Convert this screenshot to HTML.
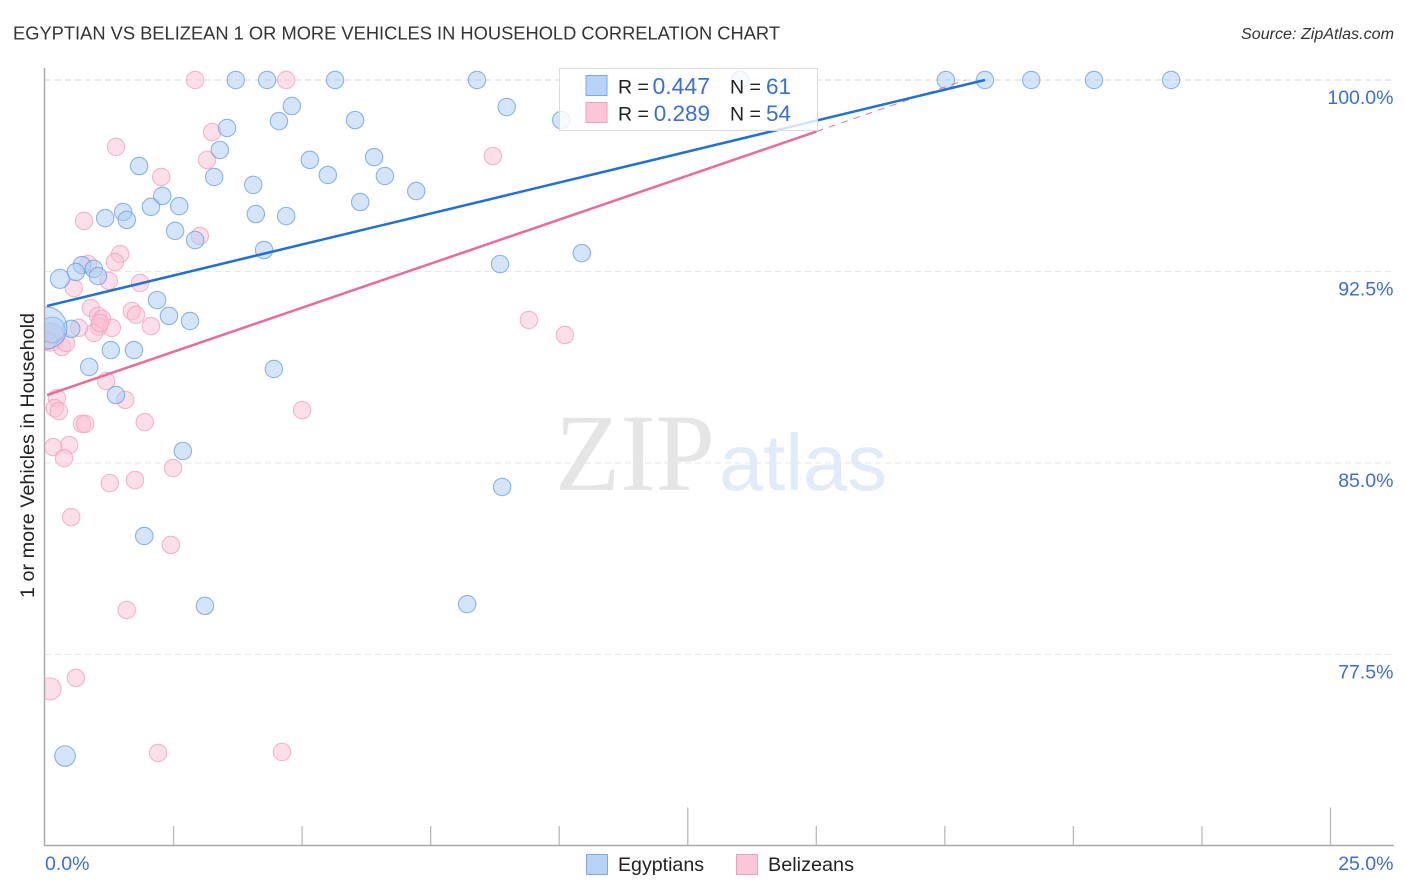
<!DOCTYPE html>
<html lang="en">
<head>
<meta charset="utf-8">
<title>Egyptian vs Belizean 1 or more Vehicles in Household Correlation Chart</title>
<style>
html,body{margin:0;padding:0;background:#fff;}
svg{display:block;font-family:"Liberation Sans",sans-serif;}
</style>
</head>
<body>
<svg id="chart" xmlns="http://www.w3.org/2000/svg" width="1406" height="892" viewBox="0 0 1406 892">
  <g>
    <text x="555" y="490" font-family="'Liberation Serif',serif" font-size="110" fill="#e5e5e5" textLength="160" lengthAdjust="spacingAndGlyphs">ZIP</text>
    <text x="719" y="490" font-size="80" fill="#e2ebf9" textLength="168" lengthAdjust="spacingAndGlyphs">atlas</text>
  </g>
  <g id="grid"></g>
  <g id="points"></g>
  <rect x="0" y="60" width="45" height="790" fill="#fff"/>
  <g id="trends"></g>
  <g id="axes"></g>
  <text x="13" y="39.5" font-size="18.5" fill="#333" textLength="767" lengthAdjust="spacingAndGlyphs">EGYPTIAN VS BELIZEAN 1 OR MORE VEHICLES IN HOUSEHOLD CORRELATION CHART</text>
  <text x="1241" y="39" font-size="15.5" font-style="italic" fill="#333" textLength="153" lengthAdjust="spacingAndGlyphs">Source: ZipAtlas.com</text>
  <text transform="translate(34,598) rotate(-90)" font-size="19" fill="#222" textLength="285" lengthAdjust="spacingAndGlyphs">1 or more Vehicles in Household</text>

  <g>
    <rect x="559.5" y="68.5" width="258" height="62" fill="#fff" fill-opacity="0.8" stroke="#dcdcdc" stroke-width="1"/>
    <rect x="586" y="75.5" width="21" height="20" fill="#b7d3f8" stroke="#7ea9e2" stroke-width="1"/>
    <rect x="586" y="102.5" width="21" height="20" fill="#fcc6d8" stroke="#f0a0bb" stroke-width="1"/>
    <text x="618" y="93.5" font-size="19.5" fill="#222">R =</text>
    <text x="710" y="94" font-size="23" fill="#3b6fd4" text-anchor="end">0.447</text>
    <text x="730" y="93.5" font-size="19.5" fill="#222">N =</text>
    <text x="791" y="94" font-size="22.5" fill="#3b6fd4" text-anchor="end">61</text>
    <text x="618" y="120.5" font-size="19.5" fill="#222">R =</text>
    <text x="710" y="121" font-size="22.5" fill="#3b6fd4" text-anchor="end">0.289</text>
    <text x="730" y="120.5" font-size="19.5" fill="#222">N =</text>
    <text x="791" y="121" font-size="22.5" fill="#3b6fd4" text-anchor="end">54</text>
  </g>

  <g>
    <rect x="586.5" y="854.5" width="21" height="20" fill="#b7d3f8" stroke="#7ea9e2" stroke-width="1"/>
    <text x="618" y="871" font-size="19.5" fill="#222" textLength="86" lengthAdjust="spacingAndGlyphs">Egyptians</text>
    <rect x="736.5" y="854.5" width="21" height="20" fill="#fcc6d8" stroke="#f0a0bb" stroke-width="1"/>
    <text x="768" y="871" font-size="19.5" fill="#222" textLength="86" lengthAdjust="spacingAndGlyphs">Belizeans</text>
  </g>
</svg>
<script>
const xTicks = [0, 2.5, 5, 7.5, 10, 12.5, 15, 17.5, 20, 22.5, 25];
const xTickMajor = [12.5, 25];
const xLabelValues = [0, 25];
const xLabels = ['0.0%', '25.0%'];
const yTicks = [100, 92.5, 85, 77.5];
const yLabels = ['100.0%', '92.5%', '85.0%', '77.5%'];

const egyptiansX = [3.71,4.32,5.64,8.40,13.52,17.52,18.28,19.18,20.40,21.90,4.80,4.55,6.03,3.54,8.98,10.04,3.40,1.83,5.15,6.40,3.29,5.50,6.61,4.05,7.22,2.28,2.06,2.61,6.13,1.52,1.17,1.59,4.10,4.69,2.53,2.92,4.26,10.44,8.85,0.72,0.60,0.95,1.03,0.29,2.18,2.41,2.82,0.51,0.14,0.02,1.28,1.73,0.86,4.45,1.38,2.68,8.89,1.93,3.11,8.21,0.39];
const egyptiansY = [100,100,100,100,100,100,100,100,100,100,98.98,98.39,98.43,98.12,98.94,98.43,97.26,96.63,96.87,96.98,96.20,96.28,96.24,95.89,95.65,95.46,95.03,95.06,95.22,94.83,94.59,94.52,94.75,94.67,94.09,93.73,93.34,93.22,92.79,92.75,92.48,92.60,92.32,92.21,91.38,90.76,90.56,90.25,90.21,90.29,89.42,89.42,88.76,88.68,87.66,85.47,84.06,82.14,79.40,79.47,73.52];
const egyptiansPop = [1,1,1,1,1,1,1,1,1,1,1,1,1,1,1,1,1,1,1,1,1,1,1,1,1,1,1,1,1,1,1,1,1,1,1,1,1,1,1,1,1,1,1,1.2,1,1,1,1,2.2,5.8,1,1,1,1,1,1,1,1,1,1,1.4];

const belizeansX = [2.92,4.69,3.25,1.38,3.15,8.71,2.26,0.76,3.01,1.46,1.36,0.84,1.24,1.85,0.56,0.89,1.69,1.77,1.03,1.11,9.41,1.05,1.30,0.95,2.06,0.66,10.11,0.10,0.33,0.41,1.19,1.56,0.23,0.19,0.27,5.00,1.94,0.72,0.78,0.47,0.16,0.37,2.49,1.75,1.26,0.51,2.45,1.59,0.60,0.10,2.20,4.61,1.07,0.06];
const belizeansY = [100,100,97.96,97.38,96.87,97.02,96.20,94.48,93.89,93.18,92.87,92.79,92.13,92.05,91.85,91.07,90.95,90.80,90.76,90.64,90.60,90.33,90.29,90.09,90.36,90.29,90.01,89.93,89.54,89.70,88.21,87.47,87.54,87.15,87.03,87.07,86.60,86.53,86.53,85.70,85.62,85.19,84.80,84.33,84.21,82.88,81.79,79.24,76.58,76.15,73.64,73.68,90.48,89.78];
const belizeansPop = [1,1,1,1,1,1,1,1,1,1,1,1,1,1,1,1,1,1,1,1,1,1,1,1,1,1,1,2.6,1,1,1,1,1,1,1,1,1,1,1,1,1,1,1,1,1,1,1,1,1,1.6,1,1,1,1];

const egyptiansTrendX = [0.04, 18.28];
const egyptiansTrendY = [91.15, 100];
const belizeansTrendX = [0.04, 15];
const belizeansTrendY = [87.66, 97.98];
const belizeansExtendX = [15, 17.9];
const belizeansExtendY = [97.98, 100];

function sx(v) { return 45 + v * 51.42; }
function sy(v) { return 80 + (100 - v) * 25.53; }
const NS = 'http://www.w3.org/2000/svg';
function make(tag, parent, attrs, text) {
  const el = document.createElementNS(NS, tag);
  for (const k in attrs) el.setAttribute(k, attrs[k]);
  if (text !== undefined) el.textContent = text;
  parent.appendChild(el);
  return el;
}

const grid = document.getElementById('grid');
const axes = document.getElementById('axes');
const points = document.getElementById('points');
const trends = document.getElementById('trends');

yTicks.forEach(function (t, i) {
  const line = make('line', grid, {x1: 45, x2: 1394, y1: sy(t), y2: sy(t), stroke: i === 0 ? '#d6d6da' : '#e6e6e6', 'stroke-width': 1, 'stroke-dasharray': '6 4'});
  
  
  const lab = make('text', axes, {x: 1393.5, y: sy(t) + 24, 'font-size': 19.5, fill: '#3b6fd4', 'text-anchor': 'end'}, yLabels[i]);
  
  
});

const yAxis = make('line', axes, {x1: 44.5, x2: 44.5, y1: 68, y2: 846, stroke: '#aaa', 'stroke-width': 1.5});


const xAxis = make('line', axes, {x1: 44, x2: 1394, y1: 845.5, y2: 845.5, stroke: '#aaa', 'stroke-width': 1.5});



xTicks.slice(1).forEach(function (t) {
  const tall = xTickMajor.indexOf(t) >= 0;
  const tick = make('line', axes, {x1: sx(t), x2: sx(t), y1: tall ? 807.5 : 826, y2: 845, stroke: '#bbb', 'stroke-width': 1.3});
  
  
});
xLabelValues.forEach(function (t, i) {
  const lab = make('text', axes, {x: i === 0 ? sx(t) : 1393.5, y: 870, 'font-size': 19.5, fill: '#3b6fd4', 'text-anchor': i === 0 ? 'start' : 'end'}, xLabels[i]);
  
  
});

function drawPoints(xs, ys, pops, fill, stroke) {
  xs.forEach(function (x, i) {
    const c = make('circle', points, {cx: sx(x), cy: sy(ys[i]), r: 8.7 * Math.sqrt(pops[i]), fill: fill, 'fill-opacity': 0.5, stroke: stroke, 'stroke-opacity': 0.75, 'stroke-width': 1.1});
    
    
  });
}
drawPoints(belizeansX, belizeansY, belizeansPop, '#fbc0d4', '#f0a0bb');
drawPoints(egyptiansX, egyptiansY, egyptiansPop, '#aaccf5', '#6a9ede');

const pinkDash = make('line', trends, {x1: sx(belizeansExtendX[0]), y1: sy(belizeansExtendY[0]), x2: sx(belizeansExtendX[1]), y2: sy(belizeansExtendY[1]), stroke: '#ea6b9b', 'stroke-width': 1, 'stroke-dasharray': '7 6'});


const pinkLine = make('line', trends, {x1: sx(belizeansTrendX[0]), y1: sy(belizeansTrendY[0]), x2: sx(belizeansTrendX[1]), y2: sy(belizeansTrendY[1]), stroke: '#ea6b9b', 'stroke-width': 2.5});


const blueLine = make('line', trends, {x1: sx(egyptiansTrendX[0]), y1: sy(egyptiansTrendY[0]), x2: sx(egyptiansTrendX[1]), y2: sy(egyptiansTrendY[1]), stroke: '#2070d8', 'stroke-width': 2.5});


</script>
</body>
</html>
